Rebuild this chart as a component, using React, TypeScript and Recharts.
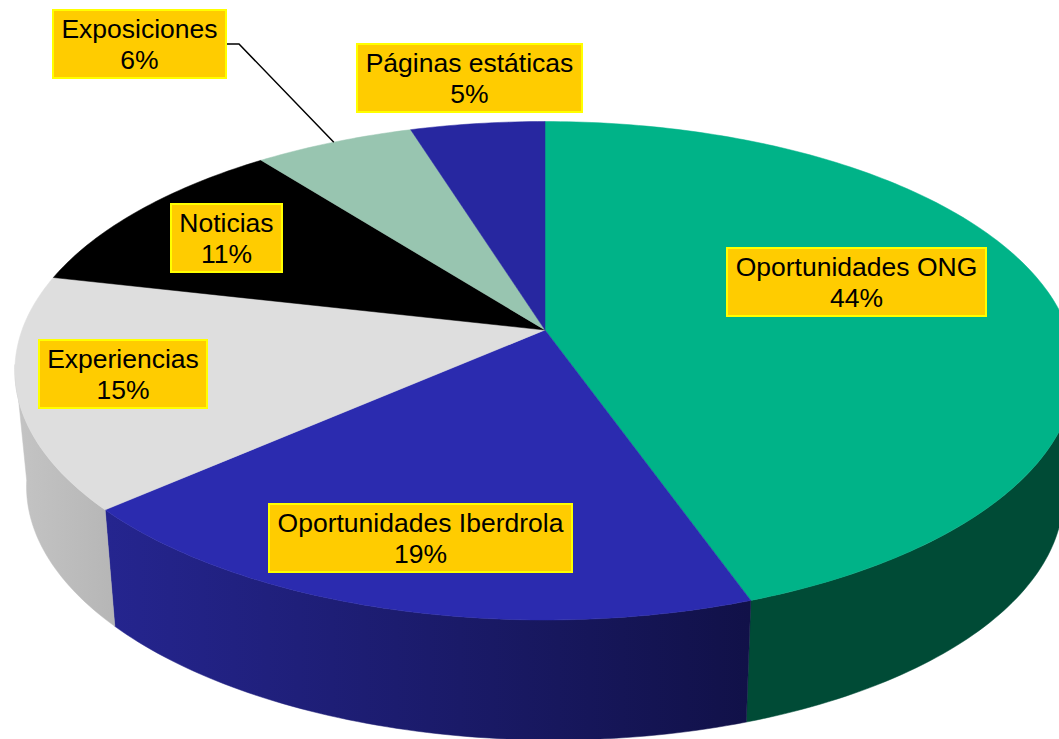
import React from "react";
import { PieChart, Pie } from "recharts";

const categories = ["Oportunidades ONG", "Oportunidades Iberdrola", "Experiencias", "Noticias", "Exposiciones", "Páginas estáticas"];
const shares = [44.6, 18.9, 15.1, 10.9, 5.7, 4.8];
const percentLabels = ["44%", "19%", "15%", "11%", "6%", "5%"];
const topColors = ["#00B388", "#2B2BAF", "#DEDEDE", "#000000", "#98C5B0", "#2727A0"];
const wallLeft = ["#004B36", "#25258F", "#C4C4C4", "#000000", "#98C5B0", "#2727A0"];
const wallRight = ["#004B36", "#111148", "#B6B6B6", "#000000", "#98C5B0", "#2727A0"];
const labelBoxes = [
  [726, 247, 261, 70],
  [268, 503, 305, 70],
  [38, 339, 170, 70],
  [170, 203, 113, 70],
  [52, 9, 175, 70],
  [356, 43, 227, 70],
];

const rows = categories.map((name, i) => ({ name, value: shares[i], fill: topColors[i], pct: percentLabels[i] }));

const W = 1059, H = 739;
const TILT = -0.1635, Y_RATIO = 0.4638;
const WALL_SHRINK = 0.978, WALL_DROP = 120, WALL_SHEAR = 0.008;
const WALL_FROM = 98, WALL_TO = 262;
const FONT_SIZE = 26.5;

const project = (cx: number, cy: number, r: number, theta: number) => {
  const t = (theta * Math.PI) / 180;
  const u = Math.sin(t), v = -Math.cos(t);
  const d = 1 + TILT * v;
  return [cx + (r * u) / d, cy + (r * Y_RATIO * v) / d];
};
const arc = (cx: number, cy: number, r: number, a: number, b: number) => {
  const n = Math.max(2, Math.ceil(Math.abs(b - a)));
  return Array.from({ length: n + 1 }, (_, i) => project(cx, cy, r, a + ((b - a) * i) / n));
};
const toPath = (pts: number[][]) => pts.map((p, i) => `${i ? "L" : "M"}${p[0].toFixed(2)},${p[1].toFixed(2)}`).join("") + "Z";

const Slice3D = (props: any) => {
  const { cx, cy, outerRadius: r, startAngle, endAngle, fill, index } = props;
  const a = 90 - startAngle, b = 90 - endAngle;
  const top = arc(cx, cy, r, a, b);
  const wa = Math.max(a, WALL_FROM), wb = Math.min(b, WALL_TO);
  let wall = null;
  if (wb > wa) {
    const rim = arc(cx, cy, r, wa, wb);
    const low = rim.map(([x, y]) => [cx + (x - cx) * WALL_SHRINK, y + WALL_DROP + (x - cx) * WALL_SHEAR]).reverse();
    const xs = [...rim, ...low].map((p) => p[0]);
    const id = `wall-${index}`;
    wall = (
      <g>
        <defs>
          <linearGradient id={id} gradientUnits="userSpaceOnUse" x1={Math.min(...xs)} y1={0} x2={Math.max(...xs)} y2={0}>
            <stop offset="0" stopColor={wallLeft[index]} />
            <stop offset="1" stopColor={wallRight[index]} />
          </linearGradient>
        </defs>
        <path d={toPath([...rim, ...low])} fill={`url(#${id})`} stroke={`url(#${id})`} strokeWidth={0.5} />
      </g>
    );
  }
  return (
    <g>
      {wall}
      <path d={toPath([[cx, cy], ...top])} fill={fill} stroke={fill} strokeWidth={0.5} />
    </g>
  );
};

const BoxLabel = (props: any) => {
  const { index, cx, cy, outerRadius: r, startAngle, endAngle } = props;
  const [x, y, w, h] = labelBoxes[index];
  const isLeader = categories[index] === "Exposiciones";
  const mid = 90 - (startAngle + endAngle) / 2;
  const tip = project(cx, cy, r, mid);
  return (
    <g>
      {isLeader && (
        <polyline points={`${x + w},${y + 35} ${x + w + 12},${y + 35} ${tip[0]},${tip[1]}`} fill="none" stroke="#000" strokeWidth={1.5} />
      )}
      <rect x={x + 1} y={y + 1} width={w - 2} height={h - 2} fill="#FFCC00" stroke="#FFFF00" strokeWidth={2} />
      <text x={x + w / 2} y={y + 29} textAnchor="middle" fontFamily="'Liberation Sans', Arial, sans-serif" fontSize={FONT_SIZE} fill="#000">
        {categories[index]}
      </text>
      <text x={x + w / 2} y={y + 60} textAnchor="middle" fontFamily="'Liberation Sans', Arial, sans-serif" fontSize={FONT_SIZE} fill="#000">
        {percentLabels[index]}
      </text>
    </g>
  );
};

export default function App() {
  return (
    <div style={{ position: "absolute", left: 0, top: 0, width: W, height: H, overflow: "hidden", background: "#fff" }}>
      <PieChart width={W} height={H} margin={{ top: 0, right: 0, bottom: 0, left: 0 }}>
        <Pie
          data={rows}
          dataKey="value"
          nameKey="name"
          cx={545}
          cy={330}
          innerRadius={0}
          outerRadius={523}
          startAngle={90}
          endAngle={-270}
          stroke="none"
          isAnimationActive={false}
          shape={Slice3D}
          label={BoxLabel}
          labelLine={false}
        />
      </PieChart>
    </div>
  );
}
